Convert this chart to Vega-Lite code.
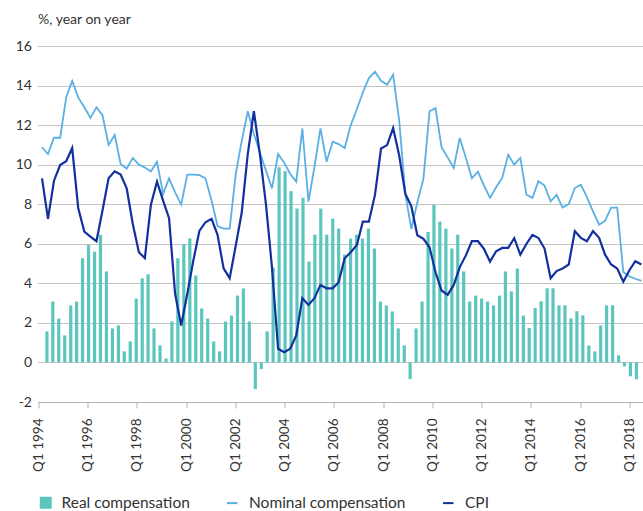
{
  "$schema": "https://vega.github.io/schema/vega-lite/v6.json",
  "autosize": {"type": "none"},
  "padding": {"left": 37.5, "top": 46, "right": 0, "bottom": 109},
  "width": 605.5,
  "height": 356,
  "background": "white",
  "config": {
    "view": {"stroke": null},
    "font": "Lato",
    "axis": {"labelFont": "Lato", "titleFont": "Lato", "labelColor": "#333333", "titleColor": "#333333"},
    "axisY": {"grid": true, "gridColor": "#c4c4c4", "gridWidth": 1, "domain": false, "ticks": false,
              "labelPadding": 6, "labelFontSize": 14, "labelOverlap": false,
              "titleAngle": 0, "titleAlign": "left", "titleBaseline": "alphabetic", "titleX": 0, "titleY": -23,
              "titleFontSize": 14, "titleFontWeight": "normal"},
    "legend": {"labelFont": "Lato", "labelColor": "#333333", "padding": 0}
  },
  "data": {"values": [
    {"date": "1994-01-01", "real": 1.57, "nominal": 10.88, "cpi": 9.31},
    {"date": "1994-04-01", "real": 3.08, "nominal": 10.54, "cpi": 7.26},
    {"date": "1994-07-01", "real": 2.22, "nominal": 11.36, "cpi": 9.19},
    {"date": "1994-10-01", "real": 1.37, "nominal": 11.36, "cpi": 9.98},
    {"date": "1995-01-01", "real": 2.88, "nominal": 13.4, "cpi": 10.17},
    {"date": "1995-04-01", "real": 3.08, "nominal": 14.24, "cpi": 10.84},
    {"date": "1995-07-01", "real": 5.27, "nominal": 13.4, "cpi": 7.81},
    {"date": "1995-10-01", "real": 5.95, "nominal": 12.9, "cpi": 6.62},
    {"date": "1996-01-01", "real": 5.6, "nominal": 12.36, "cpi": 6.36},
    {"date": "1996-04-01", "real": 6.46, "nominal": 12.9, "cpi": 6.13},
    {"date": "1996-07-01", "real": 4.6, "nominal": 12.5, "cpi": 7.68},
    {"date": "1996-10-01", "real": 1.72, "nominal": 11.0, "cpi": 9.31},
    {"date": "1997-01-01", "real": 1.87, "nominal": 11.5, "cpi": 9.66},
    {"date": "1997-04-01", "real": 0.56, "nominal": 10.03, "cpi": 9.5},
    {"date": "1997-07-01", "real": 1.06, "nominal": 9.8, "cpi": 8.8},
    {"date": "1997-10-01", "real": 3.23, "nominal": 10.34, "cpi": 7.0},
    {"date": "1998-01-01", "real": 4.25, "nominal": 10.0, "cpi": 5.57},
    {"date": "1998-04-01", "real": 4.46, "nominal": 9.86, "cpi": 5.27},
    {"date": "1998-07-01", "real": 1.72, "nominal": 9.66, "cpi": 7.98},
    {"date": "1998-10-01", "real": 0.86, "nominal": 10.15, "cpi": 9.14},
    {"date": "1999-01-01", "real": 0.2, "nominal": 8.52, "cpi": 8.18},
    {"date": "1999-04-01", "real": 2.07, "nominal": 9.31, "cpi": 7.29},
    {"date": "1999-07-01", "real": 5.27, "nominal": 8.6, "cpi": 3.47},
    {"date": "1999-10-01", "real": 5.96, "nominal": 7.98, "cpi": 1.87},
    {"date": "2000-01-01", "real": 6.27, "nominal": 9.5, "cpi": 3.47},
    {"date": "2000-04-01", "real": 4.4, "nominal": 9.5, "cpi": 5.15},
    {"date": "2000-07-01", "real": 2.73, "nominal": 9.47, "cpi": 6.65},
    {"date": "2000-10-01", "real": 2.22, "nominal": 9.31, "cpi": 7.09},
    {"date": "2001-01-01", "real": 1.06, "nominal": 8.18, "cpi": 7.26},
    {"date": "2001-04-01", "real": 0.56, "nominal": 6.9, "cpi": 6.45},
    {"date": "2001-07-01", "real": 2.07, "nominal": 6.77, "cpi": 4.76},
    {"date": "2001-10-01", "real": 2.37, "nominal": 6.77, "cpi": 4.26},
    {"date": "2002-01-01", "real": 3.38, "nominal": 9.53, "cpi": 5.91},
    {"date": "2002-04-01", "real": 3.74, "nominal": 11.2, "cpi": 7.58},
    {"date": "2002-07-01", "real": 2.07, "nominal": 12.7, "cpi": 10.54},
    {"date": "2002-10-01", "real": -1.35, "nominal": 11.55, "cpi": 12.7},
    {"date": "2003-01-01", "real": -0.34, "nominal": 10.6, "cpi": 10.5},
    {"date": "2003-04-01", "real": 1.57, "nominal": 9.7, "cpi": 8.01},
    {"date": "2003-07-01", "real": 4.8, "nominal": 8.8, "cpi": 4.81},
    {"date": "2003-10-01", "real": 9.87, "nominal": 10.54, "cpi": 0.69},
    {"date": "2004-01-01", "real": 9.67, "nominal": 10.1, "cpi": 0.52},
    {"date": "2004-04-01", "real": 8.66, "nominal": 9.53, "cpi": 0.69},
    {"date": "2004-07-01", "real": 7.78, "nominal": 9.14, "cpi": 1.36},
    {"date": "2004-10-01", "real": 8.33, "nominal": 11.83, "cpi": 3.25},
    {"date": "2005-01-01", "real": 5.1, "nominal": 8.13, "cpi": 2.91},
    {"date": "2005-04-01", "real": 6.46, "nominal": 9.87, "cpi": 3.25},
    {"date": "2005-07-01", "real": 7.78, "nominal": 11.83, "cpi": 3.92},
    {"date": "2005-10-01", "real": 6.46, "nominal": 10.15, "cpi": 3.75},
    {"date": "2006-01-01", "real": 7.27, "nominal": 11.16, "cpi": 3.75},
    {"date": "2006-04-01", "real": 6.77, "nominal": 11.04, "cpi": 4.06},
    {"date": "2006-07-01", "real": 5.45, "nominal": 10.84, "cpi": 5.27},
    {"date": "2006-10-01", "real": 6.26, "nominal": 12.0, "cpi": 5.57},
    {"date": "2007-01-01", "real": 6.46, "nominal": 12.8, "cpi": 5.94},
    {"date": "2007-04-01", "real": 6.26, "nominal": 13.65, "cpi": 7.12},
    {"date": "2007-07-01", "real": 6.77, "nominal": 14.38, "cpi": 7.12},
    {"date": "2007-10-01", "real": 5.76, "nominal": 14.7, "cpi": 8.47},
    {"date": "2008-01-01", "real": 3.08, "nominal": 14.24, "cpi": 10.82},
    {"date": "2008-04-01", "real": 2.88, "nominal": 14.04, "cpi": 10.99},
    {"date": "2008-07-01", "real": 2.58, "nominal": 14.55, "cpi": 11.85},
    {"date": "2008-10-01", "real": 1.72, "nominal": 12.2, "cpi": 10.45},
    {"date": "2009-01-01", "real": 0.86, "nominal": 8.52, "cpi": 8.52},
    {"date": "2009-04-01", "real": -0.84, "nominal": 6.75, "cpi": 7.9},
    {"date": "2009-07-01", "real": 1.72, "nominal": 8.1, "cpi": 6.43},
    {"date": "2009-10-01", "real": 3.08, "nominal": 9.28, "cpi": 6.25},
    {"date": "2010-01-01", "real": 6.6, "nominal": 12.7, "cpi": 5.82},
    {"date": "2010-04-01", "real": 7.97, "nominal": 12.86, "cpi": 4.56},
    {"date": "2010-07-01", "real": 7.12, "nominal": 10.88, "cpi": 3.64},
    {"date": "2010-10-01", "real": 6.77, "nominal": 10.37, "cpi": 3.42},
    {"date": "2011-01-01", "real": 5.76, "nominal": 9.83, "cpi": 3.92},
    {"date": "2011-04-01", "real": 6.46, "nominal": 11.35, "cpi": 4.81},
    {"date": "2011-07-01", "real": 4.6, "nominal": 10.37, "cpi": 5.4},
    {"date": "2011-10-01", "real": 3.08, "nominal": 9.31, "cpi": 6.13},
    {"date": "2012-01-01", "real": 3.38, "nominal": 9.65, "cpi": 6.13},
    {"date": "2012-04-01", "real": 3.23, "nominal": 8.94, "cpi": 5.74},
    {"date": "2012-07-01", "real": 3.08, "nominal": 8.32, "cpi": 5.1},
    {"date": "2012-10-01", "real": 2.88, "nominal": 8.86, "cpi": 5.62},
    {"date": "2013-01-01", "real": 3.38, "nominal": 9.33, "cpi": 5.79},
    {"date": "2013-04-01", "real": 4.6, "nominal": 10.5, "cpi": 5.79},
    {"date": "2013-07-01", "real": 3.59, "nominal": 10.0, "cpi": 6.28},
    {"date": "2013-10-01", "real": 4.75, "nominal": 10.34, "cpi": 5.45},
    {"date": "2014-01-01", "real": 2.37, "nominal": 8.48, "cpi": 5.99},
    {"date": "2014-04-01", "real": 1.74, "nominal": 8.32, "cpi": 6.45},
    {"date": "2014-07-01", "real": 2.75, "nominal": 9.16, "cpi": 6.29},
    {"date": "2014-10-01", "real": 3.09, "nominal": 8.94, "cpi": 5.76},
    {"date": "2015-01-01", "real": 3.75, "nominal": 8.15, "cpi": 4.26},
    {"date": "2015-04-01", "real": 3.75, "nominal": 8.47, "cpi": 4.62},
    {"date": "2015-07-01", "real": 2.89, "nominal": 7.83, "cpi": 4.75},
    {"date": "2015-10-01", "real": 2.89, "nominal": 8.0, "cpi": 4.95},
    {"date": "2016-01-01", "real": 2.23, "nominal": 8.82, "cpi": 6.64},
    {"date": "2016-04-01", "real": 2.59, "nominal": 8.99, "cpi": 6.3},
    {"date": "2016-07-01", "real": 2.38, "nominal": 8.36, "cpi": 6.13},
    {"date": "2016-10-01", "real": 0.86, "nominal": 7.64, "cpi": 6.64},
    {"date": "2017-01-01", "real": 0.56, "nominal": 6.96, "cpi": 6.3},
    {"date": "2017-04-01", "real": 1.87, "nominal": 7.16, "cpi": 5.45},
    {"date": "2017-07-01", "real": 2.89, "nominal": 7.83, "cpi": 4.95},
    {"date": "2017-10-01", "real": 2.89, "nominal": 7.83, "cpi": 4.75},
    {"date": "2018-01-01", "real": 0.36, "nominal": 4.57, "cpi": 4.08},
    {"date": "2018-04-01", "real": -0.2, "nominal": 4.36, "cpi": 4.65},
    {"date": "2018-07-01", "real": -0.7, "nominal": 4.23, "cpi": 5.12},
    {"date": "2018-10-01", "real": -0.85, "nominal": 4.12, "cpi": 4.95}
  ]},
  "resolve": {"scale": {"x": "independent"}, "axis": {"x": "independent"}},
  "layer": [
    {
      "mark": {"type": "bar", "width": 3.2},
      "encoding": {
        "x": {"field": "date", "type": "temporal", "axis": null,
              "scale": {"type": "utc", "domain": [{"year": 1993, "month": 10, "date": 25, "utc": true}, {"year": 2018, "month": 10, "date": 25, "utc": true}]}},
        "y": {"field": "real", "type": "quantitative", "title": "%, year on year",
              "scale": {"domain": [-2, 16], "nice": false, "zero": false},
              "axis": {"values": [-2, 0, 2, 4, 6, 8, 10, 12, 14, 16], "labelExpr": "'' + datum.value"}},
        "fill": {"datum": "Real compensation", "scale": {"range": ["#5cc6be"]},
                 "legend": {"orient": "none", "legendX": 0.5, "legendY": 449, "title": null, "symbolType": "square",
                            "symbolSize": 144, "symbolStrokeWidth": 0, "labelFontSize": 15.5, "labelOffset": 8, "labelLimit": 300}}
      }
    },
    {
      "mark": {"type": "line", "strokeWidth": 1.8},
      "encoding": {
        "x": {"field": "date", "type": "temporal", "axis": null,
              "scale": {"type": "utc", "domain": [{"year": 1993, "month": 10, "date": 25, "utc": true}, {"year": 2018, "month": 10, "date": 25, "utc": true}]}},
        "y": {"field": "nominal", "type": "quantitative", "title": "%, year on year",
              "scale": {"domain": [-2, 16], "nice": false, "zero": false},
              "axis": {"values": [-2, 0, 2, 4, 6, 8, 10, 12, 14, 16], "labelExpr": "'' + datum.value"}},
        "stroke": {"datum": "Nominal compensation",
                   "scale": {"domain": ["Nominal compensation", "CPI"], "range": ["#5ab0e4", "#13309f"]},
                   "legend": {"orient": "none", "legendX": 187, "legendY": 449, "title": null, "direction": "horizontal",
                              "symbolType": "stroke", "symbolSize": 110, "symbolStrokeWidth": 2, "labelFontSize": 15.5,
                              "labelOffset": 9, "columnPadding": 33, "labelLimit": 300}}
      }
    },
    {
      "mark": {"type": "line", "strokeWidth": 2.2},
      "encoding": {
        "x": {"field": "date", "type": "temporal", "axis": null,
              "scale": {"type": "utc", "domain": [{"year": 1993, "month": 10, "date": 25, "utc": true}, {"year": 2018, "month": 10, "date": 25, "utc": true}]}},
        "y": {"field": "cpi", "type": "quantitative", "title": "%, year on year",
              "scale": {"domain": [-2, 16], "nice": false, "zero": false},
              "axis": {"values": [-2, 0, 2, 4, 6, 8, 10, 12, 14, 16], "labelExpr": "'' + datum.value"}},
        "stroke": {"datum": "CPI"}
      }
    },
    {
      "mark": {"type": "rule", "opacity": 0},
      "encoding": {
        "x": {"field": "date", "type": "temporal",
              "scale": {"type": "utc", "domain": [{"year": 1993, "month": 12, "date": 20, "utc": true}, {"year": 2018, "month": 7, "date": 23, "utc": true}]},
              "axis": {"title": null, "grid": false,
                       "values": [
                         {"year": 1994, "month": 1, "date": 1, "utc": true}, {"year": 1996, "month": 1, "date": 1, "utc": true},
                         {"year": 1998, "month": 1, "date": 1, "utc": true}, {"year": 2000, "month": 1, "date": 1, "utc": true},
                         {"year": 2002, "month": 1, "date": 1, "utc": true}, {"year": 2004, "month": 1, "date": 1, "utc": true},
                         {"year": 2006, "month": 1, "date": 1, "utc": true}, {"year": 2008, "month": 1, "date": 1, "utc": true},
                         {"year": 2010, "month": 1, "date": 1, "utc": true}, {"year": 2012, "month": 1, "date": 1, "utc": true},
                         {"year": 2014, "month": 1, "date": 1, "utc": true}, {"year": 2016, "month": 1, "date": 1, "utc": true},
                         {"year": 2018, "month": 1, "date": 1, "utc": true}],
                       "labelExpr": "'Q1 ' + utcFormat(datum.value, '%Y')",
                       "labelAngle": -90, "labelAlign": "right", "labelBaseline": "middle",
                       "labelFontSize": 13.5, "labelPadding": 10, "tickSize": 6,
                       "domainColor": "#b4b4b4", "tickColor": "#b4b4b4", "labelOverlap": false, "labelFlush": false}}
      }
    }
  ]
}
